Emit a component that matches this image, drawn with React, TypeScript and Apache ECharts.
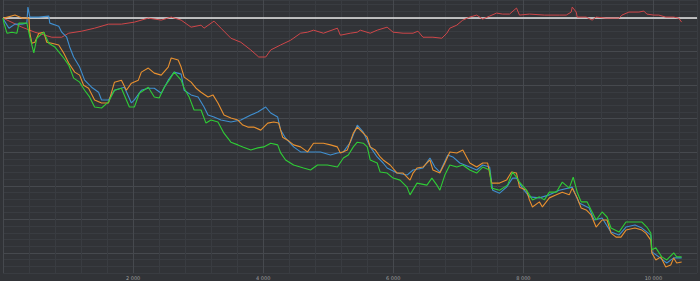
import React, { useEffect, useRef } from "react";
import * as echarts from "echarts";

const X_MAX = 10670;

const redValues: [number, number][] = [
  [0, 0], [291, -2.7], [490, -4.2], [750, -5.7], [903, -5.7], [1010, -4.5], [1209, -3.9], [1408, -3.0],
  [1622, -1.8], [1821, -1.8], [2020, -1.2], [2234, 0], [2433, -0.6], [2586, 0.3], [2739, -0.6], [2892, -2.7],
  [3045, -2.1], [3091, -3.0], [3244, -0.9], [3351, -3.0], [3504, -6.0], [3657, -7.2], [3810, -9.5], [3932, -11.6],
  [4039, -11.6], [4116, -9.5], [4269, -8.0], [4422, -6.6], [4575, -4.5], [4682, -4.2], [4774, -3.6], [4927, -4.5],
  [5141, -3.0], [5187, -5.1], [5340, -4.5], [5447, -4.2], [5493, -3.6], [5646, -4.5], [5753, -3.6], [5906, -2.7],
  [5998, -4.2], [6151, -4.5], [6304, -4.5], [6380, -3.9], [6457, -5.7], [6610, -5.7], [6747, -6.0], [6824, -4.5],
  [6870, -3.0], [6977, -2.1], [7069, -0.6], [7176, 0.3], [7283, 0.9], [7375, -0.3], [7482, 0.6], [7589, 1.5],
  [7681, 1.2], [7788, 1.2], [7895, 3.0], [7941, 0.9], [8094, 1.2], [8323, 0.9], [8553, 0.9], [8660, 0.9],
  [8736, 1.8], [8752, 3.3], [8813, 1.8], [8828, 0.3], [8966, 0.3], [9058, -0.6], [9119, 0.3], [9272, 0],
  [9471, 0], [9517, 0.9], [9624, 1.8], [9777, 1.8], [9853, 2.1], [9899, 1.2], [10006, 0.9], [10083, 0.9],
  [10190, 0.3], [10312, 0.3], [10389, 0], [10434, -1.2],
];

const blueValues: [number, number][] = [
  [0, 0], [15, -0.6], [92, -3.0], [184, -1.8], [291, -1.8], [367, -1.5], [383, 3.3], [413, 0.3], [551, 0.3],
  [704, 0.6], [719, -1.5], [857, -2.4], [903, -4.2], [979, -5.7], [1025, -8.6], [1086, -11.6], [1178, -14.6],
  [1255, -18.5], [1362, -20.6], [1469, -22.1], [1515, -24.4], [1622, -24.4], [1714, -21.5], [1867, -20.6],
  [1974, -25.3], [2020, -24.4], [2127, -21.5], [2234, -20.9], [2326, -20.9], [2433, -22.4], [2540, -18.5],
  [2632, -16.1], [2739, -16.7], [2785, -21.5], [2892, -22.9], [2999, -23.5], [3091, -26.5], [3152, -28.9],
  [3244, -29.5], [3351, -30.4], [3504, -31.0], [3657, -30.4], [3810, -28.9], [3917, -28.0], [4039, -26.5],
  [4116, -28.3], [4223, -29.5], [4269, -33.4], [4345, -35.8], [4468, -38.4], [4575, -39.9], [4728, -39.9],
  [4881, -39.9], [5034, -40.8], [5141, -40.2], [5233, -39.9], [5340, -37.0], [5447, -31.9], [5539, -34.0],
  [5646, -38.4], [5753, -41.4], [5845, -43.2], [5906, -44.7], [6059, -46.2], [6212, -46.8], [6304, -45.3],
  [6457, -44.7], [6564, -41.7], [6640, -44.4], [6717, -45.9], [6839, -40.8], [6916, -41.4], [7023, -43.2],
  [7176, -44.4], [7283, -45.3], [7375, -43.8], [7482, -44.4], [7528, -51.3], [7635, -52.2], [7742, -50.4],
  [7834, -47.7], [7895, -47.7], [7987, -50.7], [8094, -53.3], [8247, -53.6], [8400, -52.7], [8553, -51.3],
  [8752, -50.4], [8859, -55.1], [9012, -56.6], [9088, -60.2], [9211, -59.6], [9348, -63.8], [9471, -64.7],
  [9578, -62.3], [9716, -61.7], [9823, -62.6], [9960, -64.7], [9976, -69.7], [10083, -71.2], [10205, -73.0],
  [10312, -71.5], [10434, -71.5],
];

const orangeValues: [number, number][] = [
  [0, 0], [15, 0], [184, 0.9], [291, 0], [398, 0], [413, -4.5], [444, -7.5], [490, -7.2], [551, -4.5],
  [627, -4.2], [673, -7.2], [750, -7.5], [857, -8.0], [933, -10.4], [1010, -13.4], [1102, -16.1], [1178, -17.0],
  [1239, -20.0], [1316, -20.9], [1408, -24.4], [1515, -25.3], [1622, -25.3], [1714, -19.1], [1821, -18.5],
  [1897, -21.5], [1974, -19.4], [2081, -18.5], [2127, -16.1], [2234, -14.9], [2326, -16.4], [2433, -17.0],
  [2540, -14.6], [2586, -11.9], [2693, -12.5], [2739, -14.6], [2785, -17.6], [2892, -19.1], [2968, -20.9],
  [3045, -22.1], [3152, -23.5], [3228, -22.9], [3305, -25.3], [3397, -28.9], [3504, -29.8], [3611, -30.4],
  [3687, -31.9], [3764, -32.5], [3856, -32.5], [3963, -33.4], [4070, -31.3], [4162, -31.0], [4238, -31.3],
  [4299, -35.5], [4376, -36.4], [4468, -37.8], [4575, -38.4], [4682, -39.9], [4774, -37.3], [4927, -37.3],
  [5034, -37.8], [5141, -38.4], [5187, -40.2], [5294, -39.3], [5386, -34.3], [5447, -32.5], [5523, -34.0],
  [5600, -35.5], [5646, -38.4], [5722, -39.3], [5799, -41.4], [5845, -42.3], [5952, -43.8], [6059, -46.2],
  [6151, -46.2], [6258, -48.3], [6304, -46.2], [6365, -44.7], [6457, -44.4], [6564, -42.3], [6610, -45.3],
  [6717, -46.2], [6793, -43.2], [6870, -39.9], [6977, -40.2], [7069, -39.3], [7176, -43.2], [7283, -44.4],
  [7375, -43.2], [7451, -43.2], [7512, -49.2], [7635, -49.2], [7742, -48.3], [7818, -45.9], [7895, -46.2],
  [7941, -50.4], [8048, -51.3], [8094, -54.2], [8140, -56.3], [8247, -54.8], [8293, -56.3], [8400, -53.6],
  [8507, -52.7], [8599, -51.9], [8706, -52.7], [8752, -50.7], [8828, -53.6], [8889, -56.6], [8966, -57.2],
  [9042, -58.7], [9119, -62.3], [9211, -60.2], [9287, -60.2], [9348, -64.1], [9425, -65.3], [9501, -65.3],
  [9578, -63.2], [9716, -62.6], [9823, -63.2], [9884, -64.1], [9960, -66.2], [9976, -70.0], [10037, -72.1],
  [10113, -71.2], [10190, -74.2], [10266, -73.6], [10312, -71.5], [10358, -73.0], [10434, -72.7],
];

const greenValues: [number, number][] = [
  [0, 0], [15, -1.5], [61, -4.5], [138, -4.2], [214, -4.5], [245, -1.5], [367, -1.5], [413, -5.7], [474, -10.4],
  [520, -6.0], [627, -4.2], [704, -7.5], [796, -8.6], [933, -11.9], [1010, -14.0], [1086, -17.9], [1178, -19.1],
  [1255, -21.5], [1331, -23.5], [1408, -26.5], [1515, -26.8], [1622, -25.0], [1714, -21.5], [1821, -20.9],
  [1897, -24.4], [1943, -26.5], [2020, -26.5], [2096, -22.4], [2234, -20.6], [2326, -23.5], [2402, -23.8],
  [2479, -20.6], [2555, -18.5], [2632, -16.1], [2739, -18.5], [2785, -20.9], [2861, -23.5], [2938, -27.4],
  [3045, -27.4], [3121, -31.3], [3198, -30.4], [3305, -31.0], [3397, -34.3], [3504, -37.0], [3611, -37.8],
  [3687, -38.4], [3810, -39.3], [3917, -38.7], [4009, -38.4], [4116, -37.3], [4223, -37.8], [4269, -40.2],
  [4345, -42.3], [4468, -43.8], [4621, -44.7], [4728, -45.3], [4835, -43.8], [4988, -43.8], [5141, -44.4],
  [5233, -41.7], [5309, -40.8], [5386, -38.4], [5447, -37.0], [5539, -37.3], [5600, -38.4], [5646, -42.3],
  [5753, -43.2], [5799, -45.9], [5906, -46.2], [5998, -47.7], [6105, -48.3], [6212, -50.4], [6258, -52.7],
  [6365, -49.2], [6518, -49.8], [6594, -47.7], [6671, -49.8], [6717, -51.3], [6793, -46.8], [6870, -43.8],
  [6977, -44.4], [7069, -43.8], [7176, -45.3], [7283, -46.2], [7375, -44.4], [7482, -45.3], [7512, -50.7],
  [7635, -51.3], [7757, -49.8], [7834, -45.9], [7895, -47.4], [7941, -48.9], [8048, -51.3], [8140, -54.2],
  [8247, -53.3], [8323, -54.2], [8400, -51.9], [8507, -51.9], [8599, -48.9], [8706, -50.7], [8767, -47.4],
  [8828, -51.9], [8889, -54.8], [8981, -54.8], [9042, -57.2], [9119, -60.2], [9211, -57.8], [9287, -59.3],
  [9348, -62.6], [9471, -63.8], [9578, -60.8], [9716, -60.8], [9823, -60.8], [9899, -62.3], [9960, -64.1],
  [9976, -69.1], [10037, -68.5], [10129, -71.2], [10205, -72.1], [10312, -70.0], [10358, -71.2], [10434, -71.2],
];

const BG = "#313337";
const MAJOR = "#46494e";
const MINOR = "#393c41";

function fmt(v: number): string {
  return String(v).replace(/\B(?=(\d{3})+(?!\d))/g, " ");
}

export default function App() {
  const ref = useRef<HTMLDivElement>(null);
  useEffect(() => {
    if (!ref.current) return;
    const chart = echarts.init(ref.current, undefined, { renderer: "svg" });
    const line = (name: string, data: [number, number][], color: string, width: number, extra: any = {}) => ({
      name,
      type: "line",
      data,
      showSymbol: false,
      symbol: "none",
      lineStyle: { color, width },
      itemStyle: { color },
      silent: true,
      ...extra,
    });
    chart.setOption({
      animation: false,
      backgroundColor: BG,
      grid: { left: 1, right: 2, top: 0, bottom: 8, containLabel: false },
      xAxis: {
        type: "value",
        min: 0,
        max: X_MAX,
        interval: 400,
        axisLine: { show: true, lineStyle: { color: "#505359", width: 1 } },
        axisTick: { show: false },
        axisLabel: {
          color: "#a0a0a0",
          fontSize: 5,
          margin: 2,
          fontFamily: "DejaVu Sans",
          formatter: (v: number) => (v > 0 && v % 2000 === 0 ? fmt(v) : ""),
        },
        splitLine: { show: true, lineStyle: { color: [MAJOR, MINOR, MINOR, MINOR, MINOR], width: 1 } },
      },
      yAxis: {
        type: "value",
        min: -76,
        max: 5.4,
        interval: 2,
        axisLine: { show: false },
        axisTick: { show: false },
        axisLabel: { show: false },
        splitLine: { show: true, lineStyle: { color: [MINOR, MINOR, MINOR, MAJOR, MINOR], width: 1 } },
      },
      series: [
        line("red", redValues, "#cf4649", 1, {
          markLine: {
            silent: true,
            symbol: ["none", "none"],
            label: { show: false },
            lineStyle: { color: "#e6e6e6", width: 1.5, type: "solid" },
            data: [{ yAxis: 0 }],
            z: 1,
          },
        }),
        line("blue", blueValues, "#3f8fd0", 1.1),
        line("orange", orangeValues, "#e8902f", 1.1),
        line("green", greenValues, "#2fcc36", 1.1),
      ],
    });
    return () => chart.dispose();
  }, []);
  return <div ref={ref} style={{ position: "fixed", left: 0, top: 0, width: 700, height: 281 }} />;
}
